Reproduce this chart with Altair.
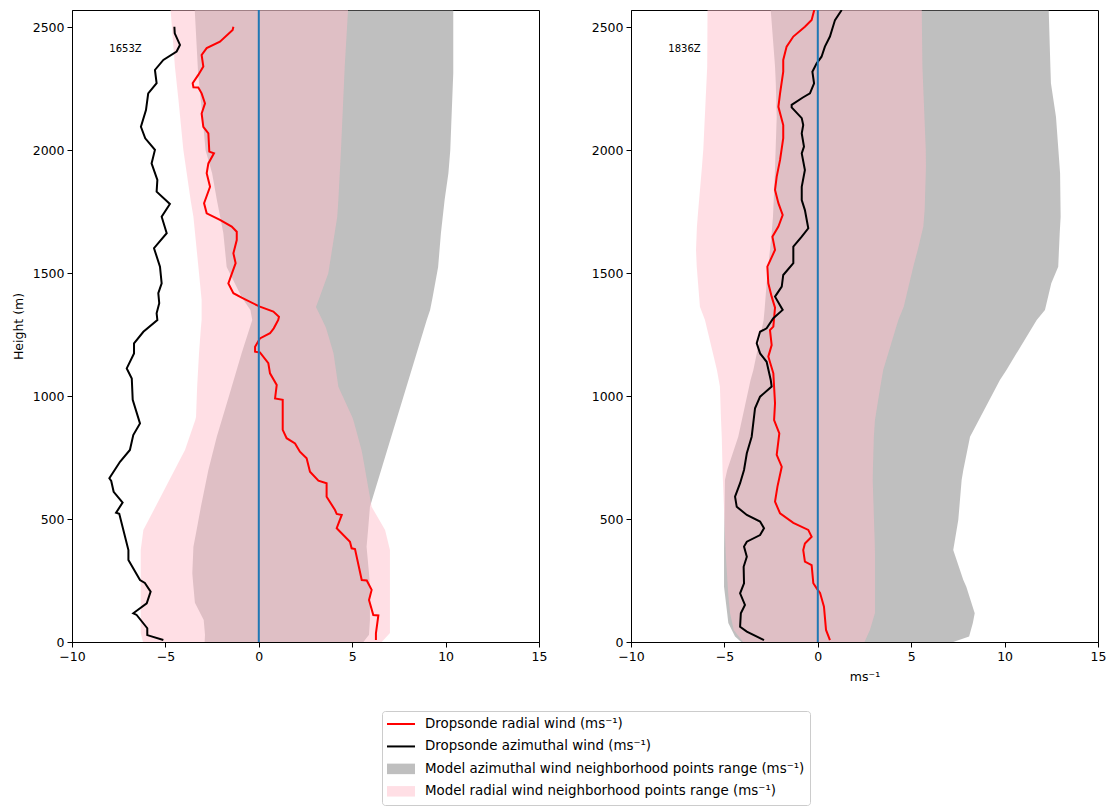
import altair as alt
import pandas as pd

FONT = "DejaVu Sans"

# ---------------- data ----------------
# Left panel (1653Z): model azimuthal wind neighborhood range (gray)
l_gray_h = [0, 30, 90, 160, 225, 280, 387, 456, 550, 700, 835, 1000, 1175, 1310, 1351, 1400, 1526, 1664, 1800, 1907, 2000, 2100, 2314, 2600]
l_gray_lo = [-2.9, -2.88, -2.95, -3.42, -3.5, -3.56, -3.5, -3.33, -3.1, -2.7, -2.25, -1.6, -0.92, -0.35, -0.45, -0.9, -1.72, -1.9, -2.25, -2.5, -2.85, -2.97, -3.25, -3.45]
l_gray_hi = [5.6, 5.9, 5.95, 5.95, 5.95, 5.9, 5.77, 5.85, 5.95, 6.55, 7.09, 7.75, 8.45, 8.99, 9.17, 9.3, 9.6, 9.75, 9.95, 10.15, 10.25, 10.3, 10.41, 10.41]

# Left panel: model radial wind neighborhood range (pink)
l_pink_h = [0, 37, 374, 456, 550, 740, 781, 903, 915, 1038, 1175, 1277, 1310, 1363, 1391, 1500, 1730, 1798, 2002, 2205, 2340, 2600]
l_pink_lo = [-6.2, -6.32, -6.32, -6.18, -5.53, -4.23, -3.95, -3.4, -3.36, -3.3, -3.2, -3.1, -3.06, -3.06, -3.06, -3.2, -3.5, -3.65, -4.04, -4.3, -4.49, -4.75]
l_pink_hi = [6.58, 7.02, 7.02, 6.76, 6.04, 5.6, 5.5, 5.06, 5.0, 4.26, 4.0, 3.6, 3.4, 3.06, 3.2, 3.72, 4.2, 4.26, 4.4, 4.52, 4.6, 4.8]

# Left panel: dropsonde radial wind (red)
l_red_h = [2503, 2490, 2442, 2416, 2388, 2341, 2307, 2273, 2257, 2256, 2232, 2191, 2150, 2096, 2069, 1995, 1988, 1947, 1907, 1852, 1785, 1744, 1717, 1690, 1669, 1635, 1581, 1541, 1459, 1419, 1401, 1364, 1344, 1323, 1310, 1276, 1256, 1235, 1201, 1181, 1178, 1134, 1093, 1046, 991, 985, 863, 829, 808, 774, 747, 693, 656, 646, 591, 537, 521, 517, 463, 408, 381, 378, 252, 250, 212, 171, 110, 108, 35, 8]
l_red_x = [-1.36, -1.4, -2.08, -2.79, -3.06, -2.97, -3.24, -3.54, -3.5, -3.24, -3.06, -2.88, -3.06, -2.97, -2.7, -2.65, -2.4, -2.7, -2.79, -2.61, -2.93, -2.79, -2.08, -1.45, -1.18, -1.18, -1.36, -1.24, -1.63, -1.36, -0.92, 0.06, 0.78, 1.08, 1.04, 0.8, 0.6, 0.06, -0.2, -0.2, 0.06, 0.51, 0.6, 0.96, 0.87, 1.28, 1.28, 1.49, 1.94, 2.2, 2.56, 2.74, 3.19, 3.63, 3.63, 4.08, 4.17, 4.44, 4.17, 4.88, 4.97, 5.15, 5.51, 5.78, 6.04, 5.9, 6.13, 6.4, 6.27, 6.27]

# Left panel: dropsonde azimuthal wind (black)
l_blk_h = [2503, 2476, 2429, 2402, 2368, 2327, 2273, 2232, 2164, 2096, 2049, 2002, 1947, 1880, 1832, 1782, 1730, 1663, 1602, 1527, 1459, 1419, 1378, 1337, 1310, 1262, 1215, 1174, 1113, 1072, 985, 889, 842, 781, 733, 666, 655, 611, 567, 526, 522, 374, 334, 252, 240, 205, 157, 117, 110, 56, 28, 8]
l_blk_x = [-4.52, -4.5, -4.22, -4.4, -5.11, -5.56, -5.47, -5.92, -6.04, -6.31, -6.08, -5.56, -5.74, -5.43, -5.47, -4.76, -5.2, -4.93, -5.61, -5.29, -5.2, -5.38, -5.33, -5.47, -5.43, -6.18, -6.68, -6.68, -7.07, -6.8, -6.75, -6.36, -6.72, -6.9, -7.43, -8.0, -7.9, -7.77, -7.29, -7.64, -7.47, -6.98, -6.98, -6.36, -6.1, -5.79, -6.0, -6.72, -6.54, -5.97, -5.97, -5.11]

# Right panel (1836Z): gray band
r_gray_h = [0, 22, 77, 117, 225, 252, 374, 496, 659, 700, 835, 1066, 1107, 1310, 1351, 1459, 1527, 1663, 1730, 1907, 2137, 2273, 2341, 2600]
r_gray_lo = [-4.1, -4.43, -4.79, -4.85, -5.02, -5.02, -5.02, -5.0, -4.97, -4.85, -4.26, -3.6, -3.45, -2.9, -2.85, -2.74, -2.65, -2.47, -2.4, -2.3, -2.2, -2.25, -2.29, -2.55]
r_gray_hi = [7.25, 8.1, 8.3, 8.4, 7.95, 7.79, 7.25, 7.52, 7.7, 7.79, 8.15, 9.75, 10.1, 11.72, 12.16, 12.5, 12.87, 12.95, 13.0, 12.97, 12.75, 12.48, 12.45, 12.35]

# Right panel: pink band
r_pink_h = [0, 49, 118, 200, 362, 400, 659, 700, 835, 903, 1039, 1107, 1310, 1364, 1527, 1595, 1690, 1757, 1934, 2002, 2341, 2600]
r_pink_lo = [-4.0, -4.5, -4.7, -4.8, -4.93, -4.95, -5.08, -5.1, -5.14, -5.18, -5.24, -5.4, -6.04, -6.31, -6.48, -6.52, -6.47, -6.4, -6.2, -6.13, -5.92, -5.9]
r_pink_hi = [2.5, 2.79, 3.06, 3.06, 3.06, 3.05, 2.94, 2.95, 3.0, 3.06, 3.35, 3.5, 4.31, 4.6, 5.11, 5.35, 5.65, 5.72, 5.79, 5.78, 5.6, 5.56]

# Right panel: red
r_red_h = [2571, 2530, 2503, 2463, 2422, 2368, 2320, 2232, 2177, 2103, 2050, 1961, 1893, 1839, 1785, 1737, 1690, 1649, 1595, 1527, 1459, 1405, 1360, 1283, 1269, 1208, 1161, 1093, 971, 903, 849, 761, 713, 632, 571, 523, 485, 456, 428, 401, 374, 327, 313, 239, 218, 200, 144, 49, 8]
r_red_x = [-0.19, -0.33, -0.69, -1.31, -1.67, -1.85, -1.85, -2.02, -2.11, -1.85, -1.85, -2.02, -2.2, -2.29, -2.11, -1.88, -2.11, -2.43, -2.29, -2.7, -2.65, -2.47, -2.29, -2.38, -2.56, -2.47, -2.65, -2.38, -2.29, -2.34, -2.06, -2.2, -1.93, -2.16, -2.29, -2.02, -1.31, -0.51, -0.33, -0.69, -0.78, -0.69, -0.33, -0.24, -0.06, 0.12, 0.33, 0.44, 0.65]

# Right panel: black
r_blk_h = [2571, 2530, 2463, 2422, 2381, 2354, 2320, 2273, 2232, 2215, 2185, 2175, 2131, 2103, 2069, 2015, 1988, 1920, 1852, 1798, 1757, 1683, 1649, 1608, 1541, 1493, 1446, 1405, 1351, 1317, 1276, 1262, 1215, 1174, 1140, 1066, 1039, 998, 951, 835, 768, 700, 646, 591, 550, 517, 490, 463, 435, 408, 388, 347, 306, 239, 198, 151, 117, 62, 42, 8]
r_blk_x = [1.28, 0.92, 0.65, 0.38, 0.2, -0.06, -0.29, -0.2, -0.42, -0.8, -1.4, -1.4, -0.86, -0.78, -0.86, -0.74, -0.86, -0.69, -0.86, -0.86, -0.69, -0.51, -0.86, -1.31, -1.31, -1.85, -1.93, -2.29, -1.88, -2.38, -2.74, -3.09, -3.27, -3.09, -2.74, -2.52, -2.47, -3.09, -3.36, -3.54, -3.8, -3.95, -4.16, -4.43, -4.34, -3.8, -3.09, -2.88, -3.09, -3.8, -3.95, -3.8, -3.97, -3.95, -4.16, -3.9, -4.12, -4.16, -3.8, -2.88]

# annotations
ann_text = ["1653Z", "1836Z"]
ann_x = [-8.0, -8.0]
ann_y = [2400, 2400]

x_ticks = [-10, -5, 0, 5, 10, 15]
y_ticks = [0, 500, 1000, 1500, 2000, 2500]
x_domain = [-10, 15]
y_domain = [0, 2571]

# legend
leg_labels = ["Dropsonde radial wind (ms⁻¹)",
              "Dropsonde azimuthal wind (ms⁻¹)",
              "Model azimuthal wind neighborhood points range (ms⁻¹)",
              "Model radial wind neighborhood points range (ms⁻¹)"]
leg_colors = ["red", "black", "gray", "pink"]
leg_kinds = ["line", "line", "patch", "patch"]
leg_rows = [0, 1, 2, 3]

PW, PH = 467, 632


def make_panel(gh, glo, ghi, ph, plo, phi, rh, rx, bh, bx, ann_i, ytitle, xtitle):
    xs = alt.Scale(domain=x_domain, nice=False, zero=False)
    ys = alt.Scale(domain=y_domain, nice=False, zero=False)
    xax = alt.Axis(values=x_ticks, title=xtitle, labelFlush=False, grid=False, titlePadding=8)
    yax = alt.Axis(values=y_ticks, title=ytitle, grid=False, format="d", titlePadding=7)

    def X(f):
        return alt.X(f, type="quantitative", scale=xs, axis=xax)

    def Y(f):
        return alt.Y(f, type="quantitative", scale=ys, axis=yax)

    gray = alt.Chart(pd.DataFrame({"h": gh, "lo": glo, "hi": ghi})).mark_area(
        orient="horizontal", color="gray", opacity=0.5, clip=True
    ).encode(y=Y("h"), x=X("lo"), x2="hi")
    pink = alt.Chart(pd.DataFrame({"h": ph, "lo": plo, "hi": phi})).mark_area(
        orient="horizontal", color="pink", opacity=0.5, clip=True
    ).encode(y=Y("h"), x=X("lo"), x2="hi")
    red = alt.Chart(pd.DataFrame({"h": rh, "x": rx, "i": list(range(len(rh)))})).mark_line(
        color="red", strokeWidth=2, clip=True
    ).encode(y=Y("h"), x=X("x"), order="i:Q")
    blk = alt.Chart(pd.DataFrame({"h": bh, "x": bx, "i": list(range(len(bh)))})).mark_line(
        color="black", strokeWidth=2, clip=True
    ).encode(y=Y("h"), x=X("x"), order="i:Q")
    zero = alt.Chart(pd.DataFrame({"x": [0]})).mark_rule(
        color="#1f77b4", strokeWidth=2
    ).encode(x=X("x"))
    txt = alt.Chart(pd.DataFrame({"x": [ann_x[ann_i]], "y": [ann_y[ann_i]], "t": [ann_text[ann_i]]})).mark_text(
        align="left", baseline="alphabetic", font=FONT, fontSize=10, color="black"
    ).encode(x=X("x"), y=Y("y"), text="t:N")
    return alt.layer(gray, pink, red, blk, zero, txt).properties(
        width=PW, height=PH, view=alt.ViewBackground(stroke="black", strokeWidth=1)
    )


left = make_panel(l_gray_h, l_gray_lo, l_gray_hi, l_pink_h, l_pink_lo, l_pink_hi,
                  l_red_h, l_red_x, l_blk_h, l_blk_x, 0, "Height (m)", None)
right = make_panel(r_gray_h, r_gray_lo, r_gray_hi, r_pink_h, r_pink_lo, r_pink_hi,
                   r_red_h, r_red_x, r_blk_h, r_blk_x, 1, None, "ms⁻¹")

panels = alt.hconcat(left, right, spacing=42).resolve_scale(x="independent", y="independent")

# legend
ldf = pd.DataFrame({"label": leg_labels, "color": leg_colors, "kind": leg_kinds, "row": leg_rows})
lys = alt.Scale(domain=[-0.58, 3.61], reverse=True, nice=False, zero=False)
LY = alt.Y("row:Q", scale=lys, axis=None)
leg_lines = alt.Chart(ldf).transform_filter(alt.datum.kind == "line").mark_rule(strokeWidth=2).encode(
    x=alt.value(5), x2=alt.value(33), y=LY, color=alt.Color("color:N", scale=None, legend=None))
leg_patch = alt.Chart(ldf).transform_filter(alt.datum.kind == "patch").mark_rule(
    strokeWidth=10.5, opacity=0.5, strokeCap="butt").encode(
    x=alt.value(5), x2=alt.value(33), y=LY, color=alt.Color("color:N", scale=None, legend=None))
leg_text = alt.Chart(ldf).mark_text(align="left", baseline="middle", font=FONT, fontSize=13.4, color="black").encode(
    x=alt.value(43), y=LY, text="label:N")
legend = alt.layer(leg_lines, leg_patch, leg_text).properties(
    width=428, height=94, view=alt.ViewBackground(stroke="#cccccc", strokeWidth=1, cornerRadius=3))

spacer = alt.Chart(pd.DataFrame({"v": [0]})).mark_rect(opacity=0).encode(
    x=alt.value(0), x2=alt.value(1), y=alt.value(0), y2=alt.value(1)
).properties(width=308, height=94, view=alt.ViewBackground(stroke="transparent"))

legend_row = alt.hconcat(spacer, legend, spacing=0).resolve_scale(y="independent")

chart = alt.vconcat(panels, legend_row, spacing=26).resolve_scale(x="independent", y="independent").properties(
    padding={"left": 11, "top": 8, "right": 0, "bottom": 0}
).configure_axis(
    labelFont=FONT, labelFontSize=12.5, labelColor="black",
    titleFont=FONT, titleFontSize=12.5, titleFontWeight="normal", titleColor="black",
    tickColor="black", tickSize=5, tickWidth=1, domainColor="black", domainWidth=1,
    labelPadding=3
).configure_view(stroke="black")

chart.save("out.html", embed_options={"renderer": "svg", "actions": False})
